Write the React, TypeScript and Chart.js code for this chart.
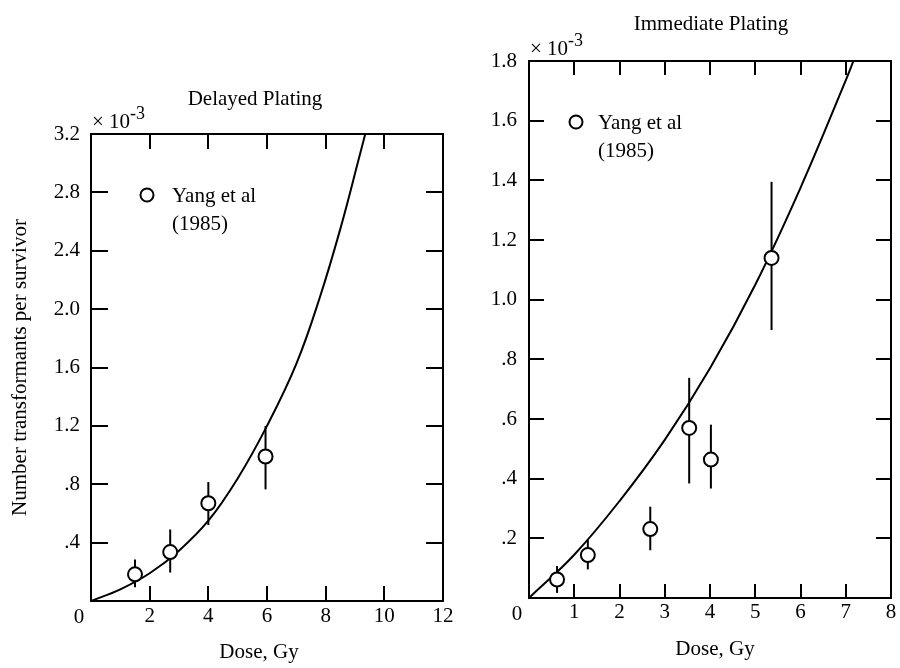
import React, { useEffect, useRef } from "react";
import { Chart, registerables } from "chart.js";

Chart.register(...registerables);

// ---------- Delayed Plating (left panel), values in units of 10^-3 ----------
const delayedDose = [1.5, 2.7, 4.0, 5.95];
const delayedValue = [0.183, 0.335, 0.67, 0.99];
const delayedErrLow = [0.095, 0.195, 0.52, 0.765];
const delayedErrHigh = [0.285, 0.49, 0.815, 1.2];
const delayedCurveDose = [0, 1, 2, 3, 4, 5, 6, 7, 7.8, 8.5, 9.15, 9.35];
const delayedCurveValue = [0, 0.08, 0.19, 0.345, 0.55, 0.84, 1.2, 1.625, 2.08, 2.55, 3.045, 3.2];
const delayedXTicks = { min: 0, max: 12, step: 2 };
const delayedYTicks = { min: 0, max: 3.2, step: 0.4 };

// ---------- Immediate Plating (right panel), values in units of 10^-3 ----------
const immediateDose = [0.62, 1.3, 2.68, 3.54, 4.02, 5.36];
const immediateValue = [0.062, 0.144, 0.231, 0.57, 0.464, 1.14];
const immediateErrLow = [0.017, 0.096, 0.16, 0.384, 0.367, 0.898];
const immediateErrHigh = [0.107, 0.197, 0.306, 0.738, 0.581, 1.395];
const immediateCurveDose = [0, 1, 2, 3, 4, 5, 6, 7, 7.17];
const immediateCurveValue = [0, 0.145, 0.325, 0.53, 0.77, 1.05, 1.375, 1.735, 1.8];
const immediateXTicks = { min: 0, max: 8, step: 1 };
const immediateYTicks = { min: 0, max: 1.8, step: 0.2 };

const legendLines = ["Yang et al", "(1985)"];
const xTitle = "Dose, Gy";
const yTitle = "Number transformants per survivor";

const FONT = "'Liberation Serif', 'Times New Roman', Times, serif";

type Panel = {
  title: string;
  dose: number[];
  value: number[];
  lo: number[];
  hi: number[];
  curveDose: number[];
  curveValue: number[];
  xt: { min: number; max: number; step: number };
  yt: { min: number; max: number; step: number };
  padTop: number;
  padRight: number;
  yAxisW: number;
  xAxisH: number;
  yTickPad: number;
  xTickPad: number;
  xTickLen: number;
  yTickLen: number;
  titleDX: number;
  titleDY: number;
  legCircleDX: number;
  legTextDX: number;
  xTitleDX: number;
  showYTitle: boolean;
};

const leftPanel: Panel = {
  title: "Delayed Plating",
  dose: delayedDose,
  value: delayedValue,
  lo: delayedErrLow,
  hi: delayedErrHigh,
  curveDose: delayedCurveDose,
  curveValue: delayedCurveValue,
  xt: delayedXTicks,
  yt: delayedYTicks,
  padTop: 134,
  padRight: 17,
  yAxisW: 91,
  xAxisH: 67,
  yTickPad: 11,
  xTickPad: 3,
  xTickLen: 15,
  yTickLen: 17,
  titleDX: 164,
  titleDY: -29,
  legCircleDX: 56,
  legTextDX: 81,
  xTitleDX: 168,
  showYTitle: true,
};

const rightPanel: Panel = {
  title: "Immediate Plating",
  dose: immediateDose,
  value: immediateValue,
  lo: immediateErrLow,
  hi: immediateErrHigh,
  curveDose: immediateCurveDose,
  curveValue: immediateCurveValue,
  xt: immediateXTicks,
  yt: immediateYTicks,
  padTop: 61,
  padRight: 9,
  yAxisW: 69,
  xAxisH: 70,
  yTickPad: 12,
  xTickPad: 2,
  xTickLen: 14,
  yTickLen: 15,
  titleDX: 182,
  titleDY: -31,
  legCircleDX: 47,
  legTextDX: 69,
  xTitleDX: 186,
  showYTitle: false,
};

function fmtY(v: number): string {
  if (Math.abs(v) < 1e-9) return "";
  const r = Math.round(v * 10) / 10;
  if (r < 1) return "." + Math.round(r * 10);
  return r.toFixed(1);
}

function makeChart(canvas: HTMLCanvasElement, p: Panel) {
  const extras = {
    id: "extras",
    beforeDatasetsDraw(chart: any) {
      const { ctx, scales } = chart;
      const x = scales.x;
      const y = scales.y;
      ctx.save();
      ctx.strokeStyle = "#000";
      ctx.lineWidth = 2;
      p.dose.forEach((d, i) => {
        const px = x.getPixelForValue(d);
        ctx.beginPath();
        ctx.moveTo(px, y.getPixelForValue(p.lo[i]));
        ctx.lineTo(px, y.getPixelForValue(p.hi[i]));
        ctx.stroke();
      });
      ctx.restore();
    },
    afterDraw(chart: any) {
      const { ctx, chartArea: a, scales } = chart;
      const x = scales.x;
      const y = scales.y;
      ctx.save();
      ctx.strokeStyle = "#000";
      ctx.fillStyle = "#000";
      ctx.lineWidth = 2;
      // frame
      ctx.strokeRect(a.left, a.top, a.right - a.left, a.bottom - a.top);
      // inward tick marks on all four sides
      x.ticks.forEach((t: any) => {
        if (t.value <= x.min || t.value >= x.max) return;
        const px = Math.round(x.getPixelForValue(t.value));
        ctx.beginPath();
        ctx.moveTo(px, a.bottom);
        ctx.lineTo(px, a.bottom - p.xTickLen);
        ctx.moveTo(px, a.top);
        ctx.lineTo(px, a.top + p.xTickLen);
        ctx.stroke();
      });
      y.ticks.forEach((t: any) => {
        if (t.value <= y.min || t.value >= y.max) return;
        const py = Math.round(y.getPixelForValue(t.value));
        ctx.beginPath();
        ctx.moveTo(a.left, py);
        ctx.lineTo(a.left + p.yTickLen, py);
        ctx.moveTo(a.right, py);
        ctx.lineTo(a.right - p.yTickLen, py);
        ctx.stroke();
      });
      // origin label
      ctx.font = `21px ${FONT}`;
      ctx.textAlign = "center";
      ctx.textBaseline = "middle";
      ctx.fillText("0", a.left - 12, a.bottom + 16);
      // panel title
      ctx.textBaseline = "alphabetic";
      ctx.fillText(p.title, a.left + p.titleDX, a.top + p.titleDY);
      // x10^-3
      ctx.textAlign = "left";
      ctx.font = `21px ${FONT}`;
      const base = "\u00d7 10";
      ctx.fillText(base, a.left + 1, a.top - 6);
      const w = ctx.measureText(base).width;
      ctx.font = `18px ${FONT}`;
      ctx.fillText("-3", a.left + 1 + w, a.top - 15);
      // legend
      ctx.beginPath();
      ctx.arc(a.left + p.legCircleDX, a.top + 61, 6.5, 0, Math.PI * 2);
      ctx.fillStyle = "#fff";
      ctx.fill();
      ctx.stroke();
      ctx.fillStyle = "#000";
      ctx.font = `21px ${FONT}`;
      ctx.fillText(legendLines[0], a.left + p.legTextDX, a.top + 68);
      ctx.fillText(legendLines[1], a.left + p.legTextDX, a.top + 96);
      // x title
      ctx.textAlign = "center";
      ctx.textBaseline = "middle";
      ctx.fillText(xTitle, a.left + p.xTitleDX, a.bottom + 51);
      // y title
      if (p.showYTitle) {
        ctx.translate(a.left - 71, (a.top + a.bottom) / 2);
        ctx.rotate(-Math.PI / 2);
        ctx.fillText(yTitle, 0, 0);
      }
      ctx.restore();
    },
  };

  return new Chart(canvas, {
    type: "scatter",
    data: {
      datasets: [
        {
          data: p.dose.map((d, i) => ({ x: d, y: p.value[i] })),
          showLine: false,
          pointRadius: 7,
          pointHoverRadius: 7,
          pointBackgroundColor: "#fff",
          pointBorderColor: "#000",
          pointBorderWidth: 2,
          order: 0,
        },
        {
          data: p.curveDose.map((d, i) => ({ x: d, y: p.curveValue[i] })),
          showLine: true,
          pointRadius: 0,
          borderColor: "#000",
          borderWidth: 2,
          tension: 0.4,
          fill: false,
          order: 1,
        },
      ],
    } as any,
    options: {
      responsive: false,
      maintainAspectRatio: false,
      devicePixelRatio: 1,
      animation: false,
      events: [],
      layout: { padding: { top: p.padTop, right: p.padRight, bottom: 0, left: 0 } },
      plugins: { legend: { display: false }, tooltip: { enabled: false }, title: { display: false } },
      scales: {
        x: {
          type: "linear",
          min: p.xt.min,
          max: p.xt.max,
          grid: { display: false, drawTicks: false },
          border: { display: false },
          ticks: {
            stepSize: p.xt.step,
            autoSkip: false,
            maxRotation: 0,
            padding: p.xTickPad,
            color: "#000",
            font: { family: FONT, size: 21 },
            callback: (v: any) => (Number(v) === 0 ? "" : String(Math.round(Number(v)))),
          },
          afterFit: (s: any) => {
            s.height = p.xAxisH;
          },
        },
        y: {
          type: "linear",
          min: p.yt.min,
          max: p.yt.max,
          grid: { display: false, drawTicks: false },
          border: { display: false },
          ticks: {
            stepSize: p.yt.step,
            autoSkip: false,
            padding: p.yTickPad,
            color: "#000",
            font: { family: FONT, size: 21 },
            callback: (v: any) => fmtY(Number(v)),
          },
          afterFit: (s: any) => {
            s.width = p.yAxisW;
          },
        },
      },
    } as any,
    plugins: [extras],
  });
}

export default function App() {
  const leftRef = useRef<HTMLCanvasElement>(null);
  const rightRef = useRef<HTMLCanvasElement>(null);

  useEffect(() => {
    const c1 = makeChart(leftRef.current as HTMLCanvasElement, leftPanel);
    const c2 = makeChart(rightRef.current as HTMLCanvasElement, rightPanel);
    return () => {
      c1.destroy();
      c2.destroy();
    };
  }, []);

  return (
    <div style={{ position: "absolute", left: 0, top: 0, width: 900, height: 668, background: "#fff" }}>
      <canvas
        ref={leftRef}
        width={460}
        height={668}
        style={{ position: "absolute", left: 0, top: 0, width: 460, height: 668, display: "block" }}
      />
      <canvas
        ref={rightRef}
        width={440}
        height={668}
        style={{ position: "absolute", left: 460, top: 0, width: 440, height: 668, display: "block" }}
      />
    </div>
  );
}
